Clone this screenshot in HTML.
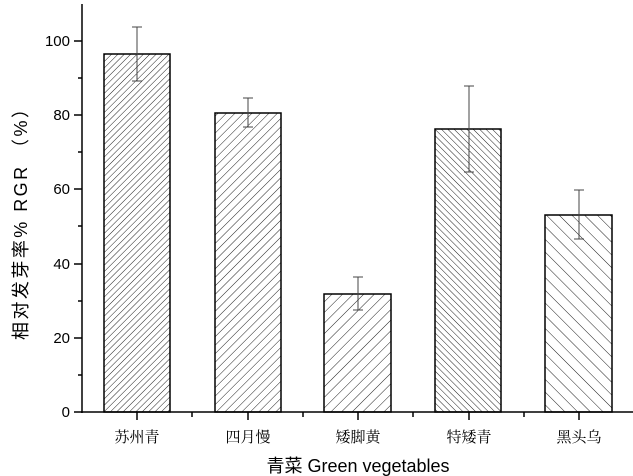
<!DOCTYPE html>
<html><head><meta charset="utf-8"><style>body{margin:0;background:#fff}svg{display:block}</style></head><body>
<svg width="633" height="476" xmlns="http://www.w3.org/2000/svg">
<defs>
<pattern id="p1" patternUnits="userSpaceOnUse" width="4.5" height="4.5" patternTransform="rotate(45)"><line x1="0" y1="0" x2="0" y2="4.5" stroke="#222" stroke-width="1"/></pattern>
<pattern id="p2" patternUnits="userSpaceOnUse" width="6" height="6" patternTransform="rotate(45)"><line x1="0" y1="0" x2="0" y2="6" stroke="#222" stroke-width="1"/></pattern>
<pattern id="p3" patternUnits="userSpaceOnUse" width="7.5" height="7.5" patternTransform="rotate(45)"><line x1="0" y1="0" x2="0" y2="7.5" stroke="#222" stroke-width="1"/></pattern>
<pattern id="p4" patternUnits="userSpaceOnUse" width="4.5" height="4.5" patternTransform="rotate(-45)"><line x1="0" y1="0" x2="0" y2="4.5" stroke="#222" stroke-width="1"/></pattern>
<pattern id="p5" patternUnits="userSpaceOnUse" width="9" height="9" patternTransform="rotate(-45)"><line x1="0" y1="0" x2="0" y2="9" stroke="#222" stroke-width="1"/></pattern>
</defs>
<g stroke="#000" stroke-width="1.5">
<rect x="104" y="54" width="66" height="358" fill="url(#p1)"/>
<rect x="215" y="113" width="66" height="299" fill="url(#p2)"/>
<rect x="324" y="294" width="67" height="118" fill="url(#p3)"/>
<rect x="435" y="129" width="66" height="283" fill="url(#p4)"/>
<rect x="545" y="215" width="67" height="197" fill="url(#p5)"/>
</g>
<g stroke="#444" stroke-width="1">
<line x1="137" y1="27" x2="137" y2="81"/><line x1="132" y1="27" x2="142" y2="27"/><line x1="132" y1="81" x2="142" y2="81"/>
<line x1="248" y1="98" x2="248" y2="127"/><line x1="243" y1="98" x2="253" y2="98"/><line x1="243" y1="127" x2="253" y2="127"/>
<line x1="358" y1="277" x2="358" y2="310"/><line x1="353" y1="277" x2="363" y2="277"/><line x1="353" y1="310" x2="363" y2="310"/>
<line x1="469" y1="86" x2="469" y2="172"/><line x1="464" y1="86" x2="474" y2="86"/><line x1="464" y1="172" x2="474" y2="172"/>
<line x1="579" y1="190" x2="579" y2="239"/><line x1="574" y1="190" x2="584" y2="190"/><line x1="574" y1="239" x2="584" y2="239"/>
</g>
<g stroke="#000" stroke-width="1.5" fill="none">
<line x1="82" y1="4" x2="82" y2="413"/>
<line x1="81" y1="412" x2="633" y2="412"/>
<line x1="74" y1="412" x2="82" y2="412"/><line x1="74" y1="338" x2="82" y2="338"/><line x1="74" y1="264" x2="82" y2="264"/><line x1="74" y1="189" x2="82" y2="189"/><line x1="74" y1="115" x2="82" y2="115"/><line x1="74" y1="41" x2="82" y2="41"/>
<line x1="78" y1="375" x2="82" y2="375"/><line x1="78" y1="301" x2="82" y2="301"/><line x1="78" y1="226" x2="82" y2="226"/><line x1="78" y1="152" x2="82" y2="152"/><line x1="78" y1="78" x2="82" y2="78"/>
<line x1="137" y1="412" x2="137" y2="420"/><line x1="248" y1="412" x2="248" y2="420"/><line x1="358" y1="412" x2="358" y2="420"/><line x1="469" y1="412" x2="469" y2="420"/><line x1="579" y1="412" x2="579" y2="420"/>
<line x1="192" y1="412" x2="192" y2="417"/><line x1="303" y1="412" x2="303" y2="417"/><line x1="413" y1="412" x2="413" y2="417"/><line x1="524" y1="412" x2="524" y2="417"/>
</g>
<g font-family="Liberation Sans, sans-serif" font-size="15" text-anchor="end">
<text x="70" y="417">0</text><text x="70" y="343">20</text><text x="70" y="269">40</text><text x="70" y="194">60</text><text x="70" y="120">80</text><text x="70" y="46">100</text>
</g>
<g font-family="Liberation Serif, 'Noto Serif CJK SC', serif" font-size="15" text-anchor="middle">
<text x="137" y="442">苏州青</text><text x="248" y="442">四月慢</text><text x="358" y="442">矮脚黄</text><text x="469" y="442">特矮青</text><text x="579" y="442">黑头乌</text>
</g>
<text x="358" y="472" font-family="Liberation Sans, 'Noto Sans CJK SC', sans-serif" font-size="18" text-anchor="middle">青菜 Green vegetables</text>
<text transform="translate(27,220) rotate(-90)" font-family="Liberation Sans, 'Noto Sans CJK SC', sans-serif" font-size="18" text-anchor="middle" textLength="240" lengthAdjust="spacing">相对发芽率%  RGR （%）</text>
</svg>
</body></html>
